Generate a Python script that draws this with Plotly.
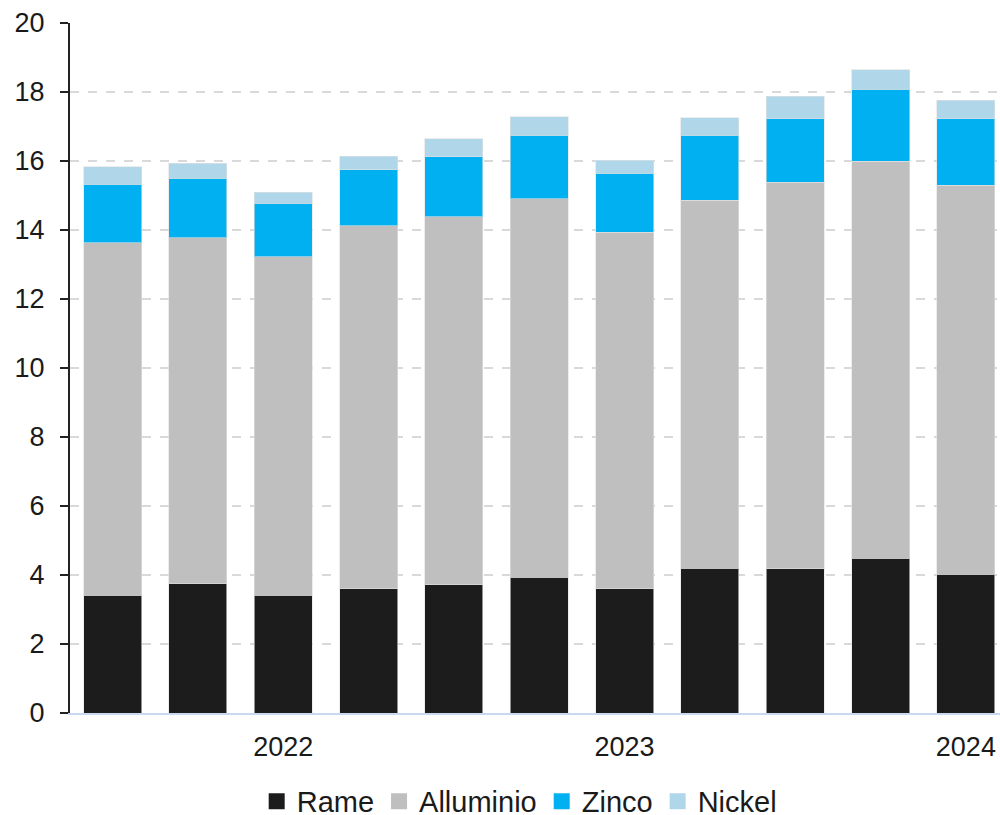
import plotly.graph_objects as go

# Data (quarters, stacked components)
categories = ["2021 T3", "2021 T4", "2022 T1", "2022 T2", "2022 T3", "2022 T4",
              "2023 T1", "2023 T2", "2023 T3", "2023 T4", "2024 T1"]
rame = [3.41, 3.74, 3.42, 3.60, 3.72, 3.94, 3.60, 4.20, 4.18, 4.49, 4.02]
alluminio = [10.22, 10.03, 9.80, 10.52, 10.67, 10.96, 10.34, 10.66, 11.21, 11.51, 11.28]
zinco = [1.70, 1.73, 1.55, 1.62, 1.73, 1.84, 1.70, 1.88, 1.84, 2.08, 1.93]
nickel = [0.50, 0.43, 0.32, 0.40, 0.52, 0.54, 0.38, 0.51, 0.65, 0.57, 0.53]

tick_cats = ["2022 T1", "2023 T1", "2024 T1"]
tick_labels = ["2022", "2023", "2024"]
y_ticks = list(range(0, 21, 2))

series = [
    ("Rame", rame, "#1b1c1b"),
    ("Alluminio", alluminio, "#bfbfbf"),
    ("Zinco", zinco, "#00b0f0"),
    ("Nickel", nickel, "#b0d6ea"),
]

FONT = "Liberation Sans, Arial, sans-serif"
TXT = "#1a1a1a"

fig = go.Figure()
for name, vals, col in series:
    fig.add_trace(go.Bar(
        x=categories, y=vals, name=name, showlegend=False,
        marker=dict(color=col, line=dict(color="rgba(225,225,225,0.6)", width=1)),
    ))
# legend entries with larger square swatches
for name, vals, col in series:
    fig.add_trace(go.Scatter(
        x=[None], y=[None], name=name, mode="markers",
        marker=dict(symbol="square", size=18, color=col),
        showlegend=True, hoverinfo="skip",
    ))

fig.update_layout(
    barmode="stack",
    bargap=0.32,
    width=1000, height=815,
    margin=dict(l=70, r=0, t=23, b=102, autoexpand=False),
    paper_bgcolor="white",
    plot_bgcolor="white",
    font=dict(family=FONT, size=27, color=TXT),
    showlegend=True,
    legend=dict(
        orientation="h",
        x=0.483, xanchor="center",
        y=-0.128, yanchor="middle",
        font=dict(family=FONT, size=29, color=TXT),
        traceorder="normal",
        itemclick=False,
        tracegroupgap=0,
    ),
    xaxis=dict(
        type="category",
        range=[-0.5, 10.4],
        tickmode="array",
        tickvals=tick_cats,
        ticktext=tick_labels,
        ticks="",
        showline=True, linecolor="#c8d8ee", linewidth=2,
        showgrid=False,
        ticklabelstandoff=9,
        tickfont=dict(family=FONT, size=27, color=TXT),
    ),
    yaxis=dict(
        range=[0, 20],
        tickmode="array",
        tickvals=y_ticks,
        ticks="outside", ticklen=8, tickwidth=2, tickcolor="#222222",
        showline=True, linecolor="#222222", linewidth=2,
        showgrid=True, gridcolor="#d9d9d9", gridwidth=2, griddash="dash",
        zeroline=False,
        ticklabelstandoff=10,
        tickfont=dict(family=FONT, size=27, color=TXT),
    ),
)

fig.write_html(
    "out.html",
    config={"displayModeBar": False},
    post_script="document.body.style.margin='0';document.body.style.padding='0';"
                "document.body.style.overflow='hidden';",
)
